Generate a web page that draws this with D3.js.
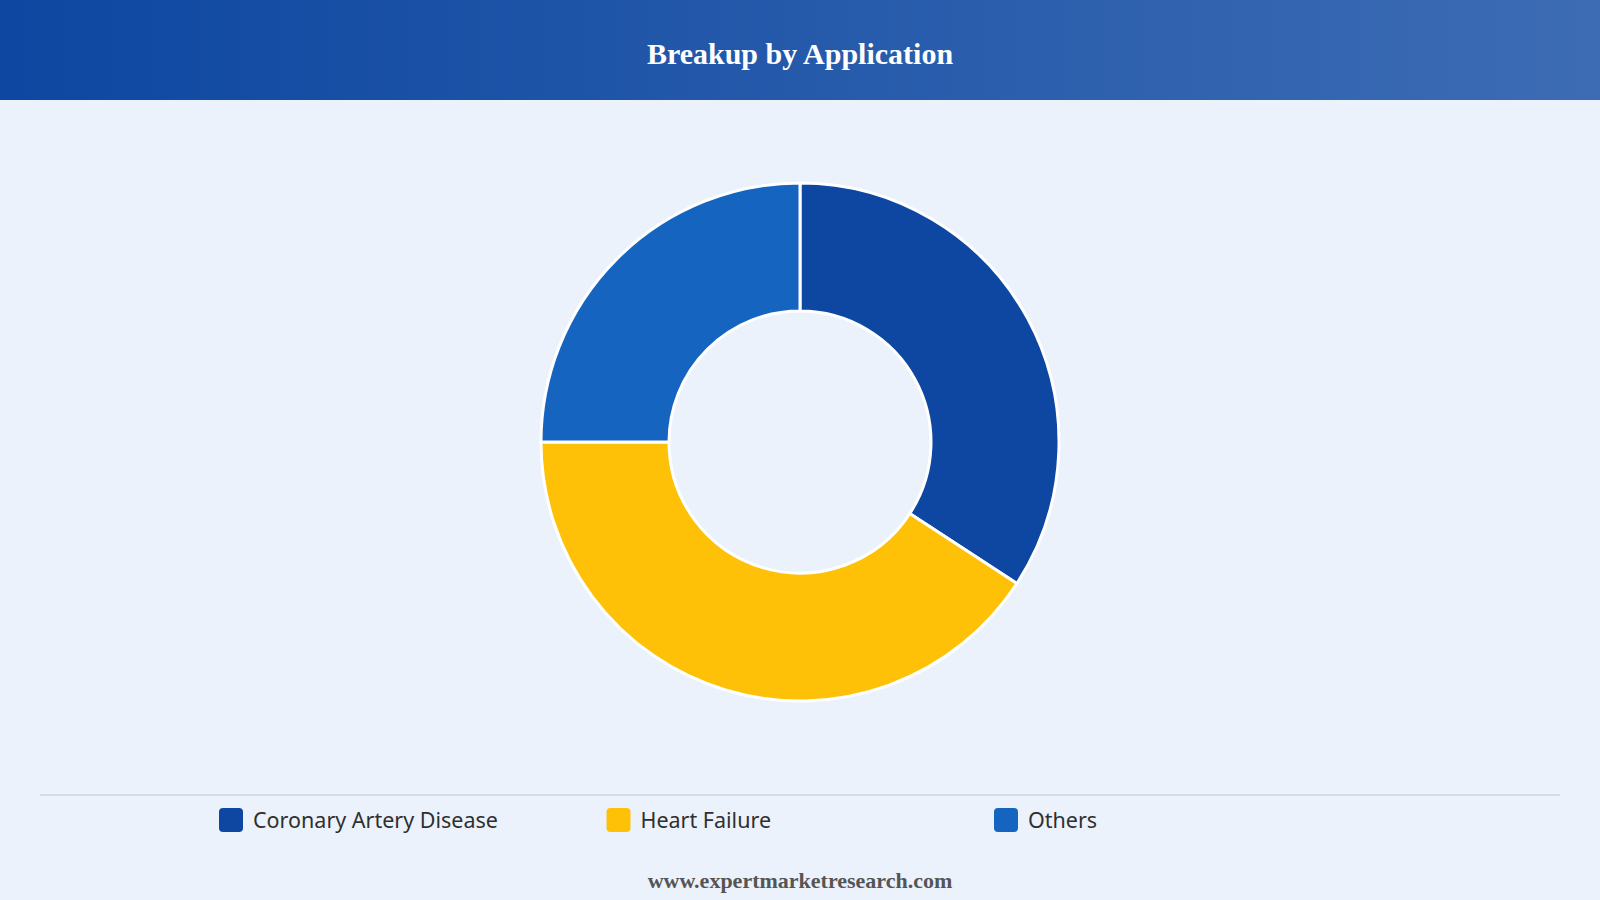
<!DOCTYPE html>
<html>
<head>
<meta charset="utf-8">
<script src="https://cdn.jsdelivr.net/npm/d3@7"></script>
<style>
  html, body { margin: 0; padding: 0; background: #ebf2fb; }
  svg { display: block; }
</style>
</head>
<body>
<div id="chart"></div>
<script>
// data
const categories = ['Coronary Artery Disease', 'Heart Failure', 'Others'];
const shares = [34.2, 40.8, 25.0];
const colours = ['#0d47a1', '#ffc107', '#1565c0'];

const width = 1600;
const height = 900;

const svg = d3.select('#chart').append('svg')
  .attr('width', width)
  .attr('height', height);

// header band with gradient
const defs = svg.append('defs');
const grad = defs.append('linearGradient').attr('id', 'hdr').attr('x1', '0%').attr('x2', '100%');
grad.append('stop').attr('offset', '0%').attr('stop-color', '#0d47a1');
grad.append('stop').attr('offset', '100%').attr('stop-color', '#3d6cb4');

svg.append('rect').attr('width', width).attr('height', height).attr('fill', '#ebf2fb');
svg.append('rect').attr('width', width).attr('height', 100).attr('fill', 'url(#hdr)');

svg.append('text')
  .attr('x', width / 2)
  .attr('y', 64)
  .attr('text-anchor', 'middle')
  .style('font-family', '"Liberation Serif", "Times New Roman", serif')
  .style('font-weight', 'bold')
  .style('font-size', '30px')
  .attr('fill', '#fff')
  .text('Breakup by Application');

// donut
const pie = d3.pie().sort(null).value(d => d);
const arc = d3.arc().innerRadius(131).outerRadius(259);

const g = svg.append('g').attr('transform', 'translate(800,442)');
g.selectAll('path')
  .data(pie(shares))
  .enter()
  .append('path')
  .attr('d', arc)
  .attr('fill', (d, i) => colours[i])
  .attr('stroke', '#fff')
  .attr('stroke-width', 3);

// divider
svg.append('line')
  .attr('x1', 40).attr('x2', 1560)
  .attr('y1', 795).attr('y2', 795)
  .attr('stroke', '#d7dce2')
  .attr('stroke-width', 2);

// legend
const legendX = d3.scalePoint().domain(categories).range([219, 994]);
const item = svg.selectAll('.legend')
  .data(categories)
  .enter()
  .append('g')
  .attr('class', 'legend')
  .attr('transform', d => `translate(${legendX(d)},808)`);

item.append('rect')
  .attr('width', 24).attr('height', 24)
  .attr('rx', 4)
  .attr('fill', (d, i) => colours[i]);

item.append('text')
  .attr('x', 34)
  .attr('y', 20)
  .style('font-family', '"Noto Sans", "Open Sans", sans-serif')
  .style('font-size', '21.5px')
  .attr('fill', '#2f2f2f')
  .text(d => d);

// footer
svg.append('text')
  .attr('x', width / 2)
  .attr('y', 888)
  .attr('text-anchor', 'middle')
  .style('font-family', '"Liberation Serif", "Times New Roman", serif')
  .style('font-weight', 'bold')
  .style('font-size', '22px')
  .attr('fill', '#555')
  .text('www.expertmarketresearch.com');
</script>
</body>
</html>
